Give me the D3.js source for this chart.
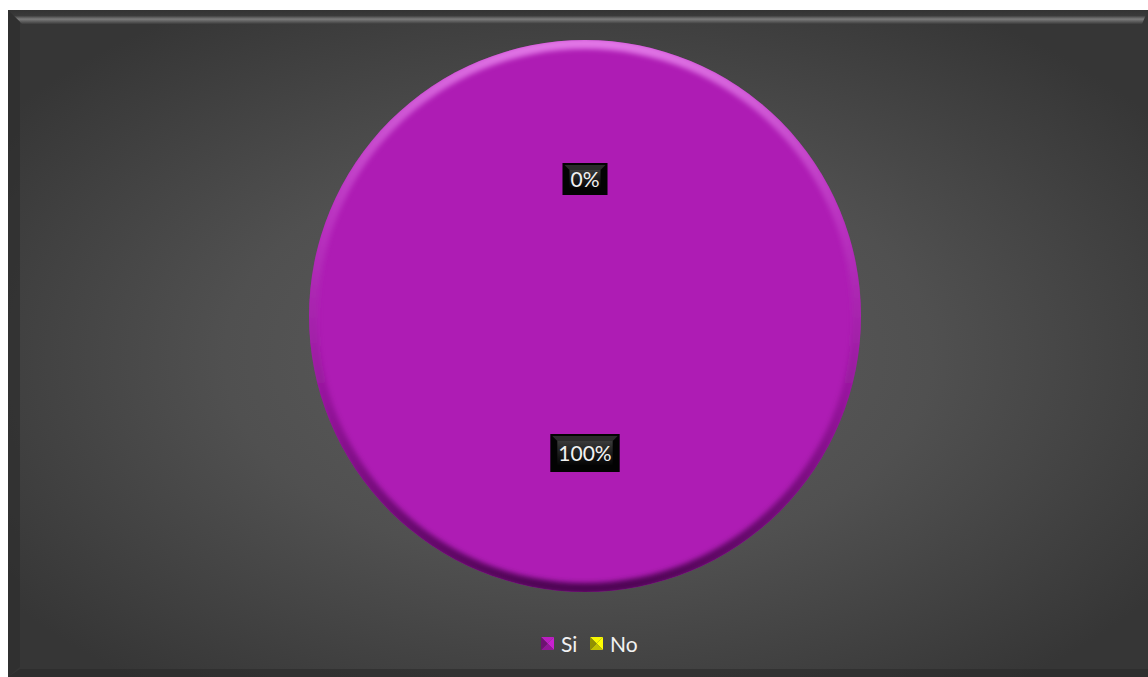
<!DOCTYPE html>
<html>
<head>
<meta charset="utf-8">
<script src="https://cdn.jsdelivr.net/npm/d3@7"></script>
<style>
  html, body { margin: 0; padding: 0; background: #ffffff; }
  svg { display: block; }
  text { font-family: Lato, "Open Sans", sans-serif; }
</style>
</head>
<body>
<svg id="chart" width="1148" height="677"></svg>
<script>
// Survey answers and their shares (percent)
const categories = ["Si", "No"];
const values = [100, 0];
const labels = ["100%", "0%"];
const colors = ["#ae1cb4", "#e6e600"];

const W = 1148, H = 677;
const svg = d3.select("#chart");
const defs = svg.append("defs");

// ---- chart area background with bevelled frame ----
const frame = { x: 8, y: 10, w: W - 8, h: H - 10 };

const bg = defs.append("radialGradient").attr("id", "bgGrad")
  .attr("cx", "50%").attr("cy", "52%").attr("r", "62%");
bg.append("stop").attr("offset", "0%").attr("stop-color", "#5e5e5e");
bg.append("stop").attr("offset", "50%").attr("stop-color", "#505050");
bg.append("stop").attr("offset", "100%").attr("stop-color", "#363636");

const topBevel = defs.append("linearGradient").attr("id", "topBevel")
  .attr("x1", 0).attr("y1", 0).attr("x2", 0).attr("y2", 1);
topBevel.append("stop").attr("offset", "0%").attr("stop-color", "#333");
topBevel.append("stop").attr("offset", "40%").attr("stop-color", "#3a3a3a");
topBevel.append("stop").attr("offset", "65%").attr("stop-color", "#7c7c7c");
topBevel.append("stop").attr("offset", "100%").attr("stop-color", "#3c3c3c");

svg.append("rect")
  .attr("x", frame.x).attr("y", frame.y)
  .attr("width", frame.w).attr("height", frame.h)
  .attr("fill", "url(#bgGrad)");

// top highlight band
svg.append("path")
  .attr("d", `M${frame.x},${frame.y} L${frame.x + frame.w},${frame.y} L${frame.x + frame.w - 6},${frame.y + 14} L${frame.x + 14},${frame.y + 14} Z`)
  .attr("fill", "url(#topBevel)");
// left dark band
svg.append("path")
  .attr("d", `M${frame.x},${frame.y} L${frame.x + 12},${frame.y + 12} L${frame.x + 12},${frame.y + frame.h - 10} L${frame.x},${frame.y + frame.h} Z`)
  .attr("fill", "#2e2e2e").attr("opacity", 0.7);
// bottom dark band
svg.append("path")
  .attr("d", `M${frame.x},${frame.y + frame.h} L${frame.x + 12},${frame.y + frame.h - 8} L${frame.x + frame.w},${frame.y + frame.h - 8} L${frame.x + frame.w},${frame.y + frame.h} Z`)
  .attr("fill", "#2a2a2a").attr("opacity", 0.6);

// ---- pie ----
const cx = 585, cy = 316, R = 276;
const g = svg.append("g").attr("transform", `translate(${cx},${cy})`);

const pie = d3.pie().sort(null).value(d => d.value);
const data = pie(categories.map((c, i) => ({ cat: c, value: values[i], label: labels[i], color: colors[i] })));
const arc = d3.arc().innerRadius(0).outerRadius(R);

// soft edge shading for the disc
const rimGrad = defs.append("linearGradient").attr("id", "rimGrad")
  .attr("x1", 0).attr("y1", 0).attr("x2", 0).attr("y2", 1);
rimGrad.append("stop").attr("offset", "0%").attr("stop-color", "#f090f5").attr("stop-opacity", 0.8);
rimGrad.append("stop").attr("offset", "35%").attr("stop-color", "#d060d8").attr("stop-opacity", 0.3);
rimGrad.append("stop").attr("offset", "65%").attr("stop-color", "#5a0a60").attr("stop-opacity", 0.3);
rimGrad.append("stop").attr("offset", "100%").attr("stop-color", "#3a0040").attr("stop-opacity", 0.85);

const blur = defs.append("filter").attr("id", "soft")
  .attr("x", "-10%").attr("y", "-10%").attr("width", "120%").attr("height", "120%");
blur.append("feGaussianBlur").attr("stdDeviation", 2.5);

const clip = defs.append("clipPath").attr("id", "discClip");
clip.append("circle").attr("r", R);

g.selectAll("path.slice")
  .data(data)
  .join("path")
  .attr("class", "slice")
  .attr("d", arc)
  .attr("fill", d => d.data.color);

const rim = d3.arc().innerRadius(R - 9).outerRadius(R + 2).startAngle(0).endAngle(2 * Math.PI);
g.append("g").attr("clip-path", "url(#discClip)")
  .append("path")
  .attr("d", rim())
  .attr("fill", "url(#rimGrad)")
  .attr("filter", "url(#soft)");

// ---- data labels on dark bevelled boxes ----
const labelArc = d3.arc().innerRadius(137).outerRadius(137);

const boxGrad = defs.append("linearGradient").attr("id", "boxGrad")
  .attr("x1", 0).attr("y1", 0).attr("x2", 0).attr("y2", 1);
boxGrad.append("stop").attr("offset", "0%").attr("stop-color", "#3a3a3a");
boxGrad.append("stop").attr("offset", "55%").attr("stop-color", "#1a1a1a");
boxGrad.append("stop").attr("offset", "100%").attr("stop-color", "#050505");

const lbl = g.selectAll("g.lbl")
  .data(data)
  .join("g")
  .attr("class", "lbl")
  .attr("transform", d => { const [x, y] = labelArc.centroid(d); return `translate(${x},${y})`; });

lbl.each(function(d) {
  const sel = d3.select(this);
  const t = sel.append("text")
    .attr("text-anchor", "middle")
    .attr("dy", "0.36em")
    .attr("fill", "#f2f2f2")
    .attr("font-size", 21)
    .text(d.data.label);
  const bw = t.node().getComputedTextLength() + 16;
  const bh = d.data.value > 0 ? 38 : 32;
  const x0 = -bw / 2, y0 = -bh / 2, x1 = bw / 2, y1 = bh / 2, b = 5;
  // outer frame
  sel.insert("rect", "text")
    .attr("x", x0).attr("y", y0).attr("width", bw).attr("height", bh)
    .attr("fill", "#030303");
  // top bevel
  sel.insert("path", "text")
    .attr("d", `M${x0 + 2},${y0 + 2} L${x1 - 2},${y0 + 2} L${x1 - b - 2},${y0 + b + 2} L${x0 + b + 2},${y0 + b + 2} Z`)
    .attr("fill", "#2a2a2a");
  // face
  sel.insert("rect", "text")
    .attr("x", x0 + b + 2).attr("y", y0 + b + 2)
    .attr("width", bw - 2 * b - 4).attr("height", bh - 2 * b - 4)
    .attr("fill", "url(#boxGrad)");
});

// ---- legend ----
const legend = svg.append("g").attr("transform", "translate(541,644)");
const items = categories.map((c, i) => ({ cat: c, color: colors[i] }));
const offsets = [0, 49];

const li = legend.selectAll("g.item")
  .data(items)
  .join("g")
  .attr("class", "item")
  .attr("transform", (d, i) => `translate(${offsets[i]},0)`);

li.each(function(d) {
  const s = d3.select(this);
  const c = d3.color(d.color);
  const m = 6.5, k = -0.5;
  s.append("path").attr("d", `M0,-7 L13,-7 L${m},${k} Z`).attr("fill", c.brighter(0.2));
  s.append("path").attr("d", `M13,-7 L13,6 L${m},${k} Z`).attr("fill", c.brighter(0.4));
  s.append("path").attr("d", `M0,6 L13,6 L${m},${k} Z`).attr("fill", c.darker(0.5));
  s.append("path").attr("d", `M0,-7 L0,6 L${m},${k} Z`).attr("fill", c.darker(1.3));
  s.append("text")
    .attr("x", 20).attr("y", 0).attr("dy", "0.36em")
    .attr("fill", "#f2f2f2").attr("font-size", 21)
    .text(d.cat);
});
</script>
</body>
</html>
